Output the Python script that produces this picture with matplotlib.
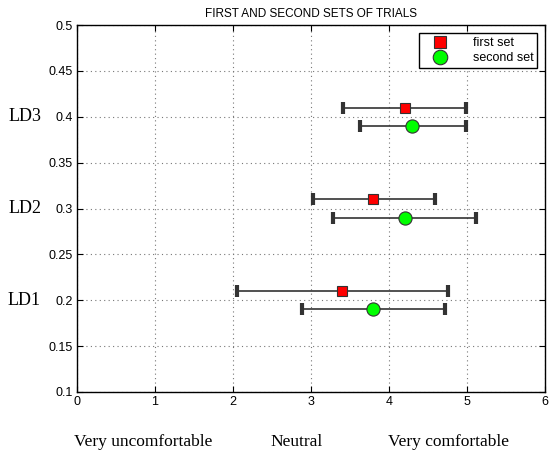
import matplotlib
matplotlib.use("Agg")
import matplotlib.pyplot as plt
import numpy as np

# Data
groups = ["LD1", "LD2", "LD3"]
group_y = [0.2, 0.3, 0.4]
first_y = [0.21, 0.31, 0.41]
first_x = [3.4, 3.8, 4.2]
first_lo = [2.05, 3.02, 3.41]
first_hi = [4.76, 4.59, 4.99]
second_y = [0.19, 0.29, 0.39]
second_x = [3.8, 4.2, 4.3]
second_lo = [2.88, 3.28, 3.63]
second_hi = [4.72, 5.12, 4.98]
xticks = [0, 1, 2, 3, 4, 5, 6]
yticks = [0.1, 0.15, 0.2, 0.25, 0.3, 0.35, 0.4, 0.45, 0.5]
ytick_labels = ["0.1", "0.15", "0.2", "0.25", "0.3", "0.35", "0.4", "0.45", "0.5"]
scale_labels = ["Very uncomfortable", "Neutral", "Very comfortable"]
scale_pos = [0.85, 2.81, 4.76]

sans = ["Liberation Sans Narrow", "Liberation Sans", "DejaVu Sans"]
serif = ["Liberation Serif", "DejaVu Serif"]

fig = plt.figure(figsize=(5.49, 4.55), dpi=100)
ax = fig.add_axes([0.140, 0.1385, 0.853, 0.8065])

fx = np.array(first_x); sx = np.array(second_x)
ferr = [fx - np.array(first_lo), np.array(first_hi) - fx]
serr = [sx - np.array(second_lo), np.array(second_hi) - sx]

ax.errorbar(first_x, first_y, xerr=ferr, fmt='none', ecolor='#333333', elinewidth=1.2,
            capsize=4, capthick=3, zorder=2)
ax.errorbar(second_x, second_y, xerr=serr, fmt='none', ecolor='#333333', elinewidth=1.2,
            capsize=4, capthick=3, zorder=2)
ax.plot(first_x, first_y, 's', color='#ff0000', markeredgecolor='#333333', markersize=7.5,
        markeredgewidth=0.8, label='first set', zorder=3)
ax.plot(second_x, second_y, 'o', color='#00ff00', markeredgecolor='#333333', markersize=9.5,
        markeredgewidth=0.8, label='second set', zorder=3)

ax.set_xlim(0, 6)
ax.set_ylim(0.1, 0.5)
ax.set_xticks(xticks)
ax.set_yticks(yticks)
ax.set_yticklabels(ytick_labels)
for lab in ax.get_xticklabels() + ax.get_yticklabels():
    lab.set_family(sans)
    lab.set_fontsize(9)
ax.tick_params(direction='in', top=True, right=True, length=4, width=0.8, pad=3)
ax.grid(True, linestyle=(0, (1, 3)), color='#777777', linewidth=0.8)
for s in ax.spines.values():
    s.set_linewidth(1.0)

ax.set_title("FIRST AND SECOND SETS OF TRIALS", fontsize=8.5, family=sans, pad=6)

for g, yv in zip(groups, group_y):
    ax.text(-0.67, yv, g, family=serif, fontsize=13, ha='center', va='center',
            transform=ax.transData, clip_on=False)

for lab, xv in zip(scale_labels, scale_pos):
    ax.text(xv, 0.0455, lab, family=serif, fontsize=12.5, ha='center', va='center',
            transform=ax.transData, clip_on=False)

leg = ax.legend(loc='upper right', prop={'family': sans, 'size': 9}, fancybox=False,
                edgecolor='black', framealpha=1, borderpad=0.3, handletextpad=1.2,
                labelspacing=0.25, borderaxespad=0.65, handlelength=2.8, markerscale=1.1)
leg.get_frame().set_linewidth(1.0)

fig.savefig("out.png", dpi=100)
